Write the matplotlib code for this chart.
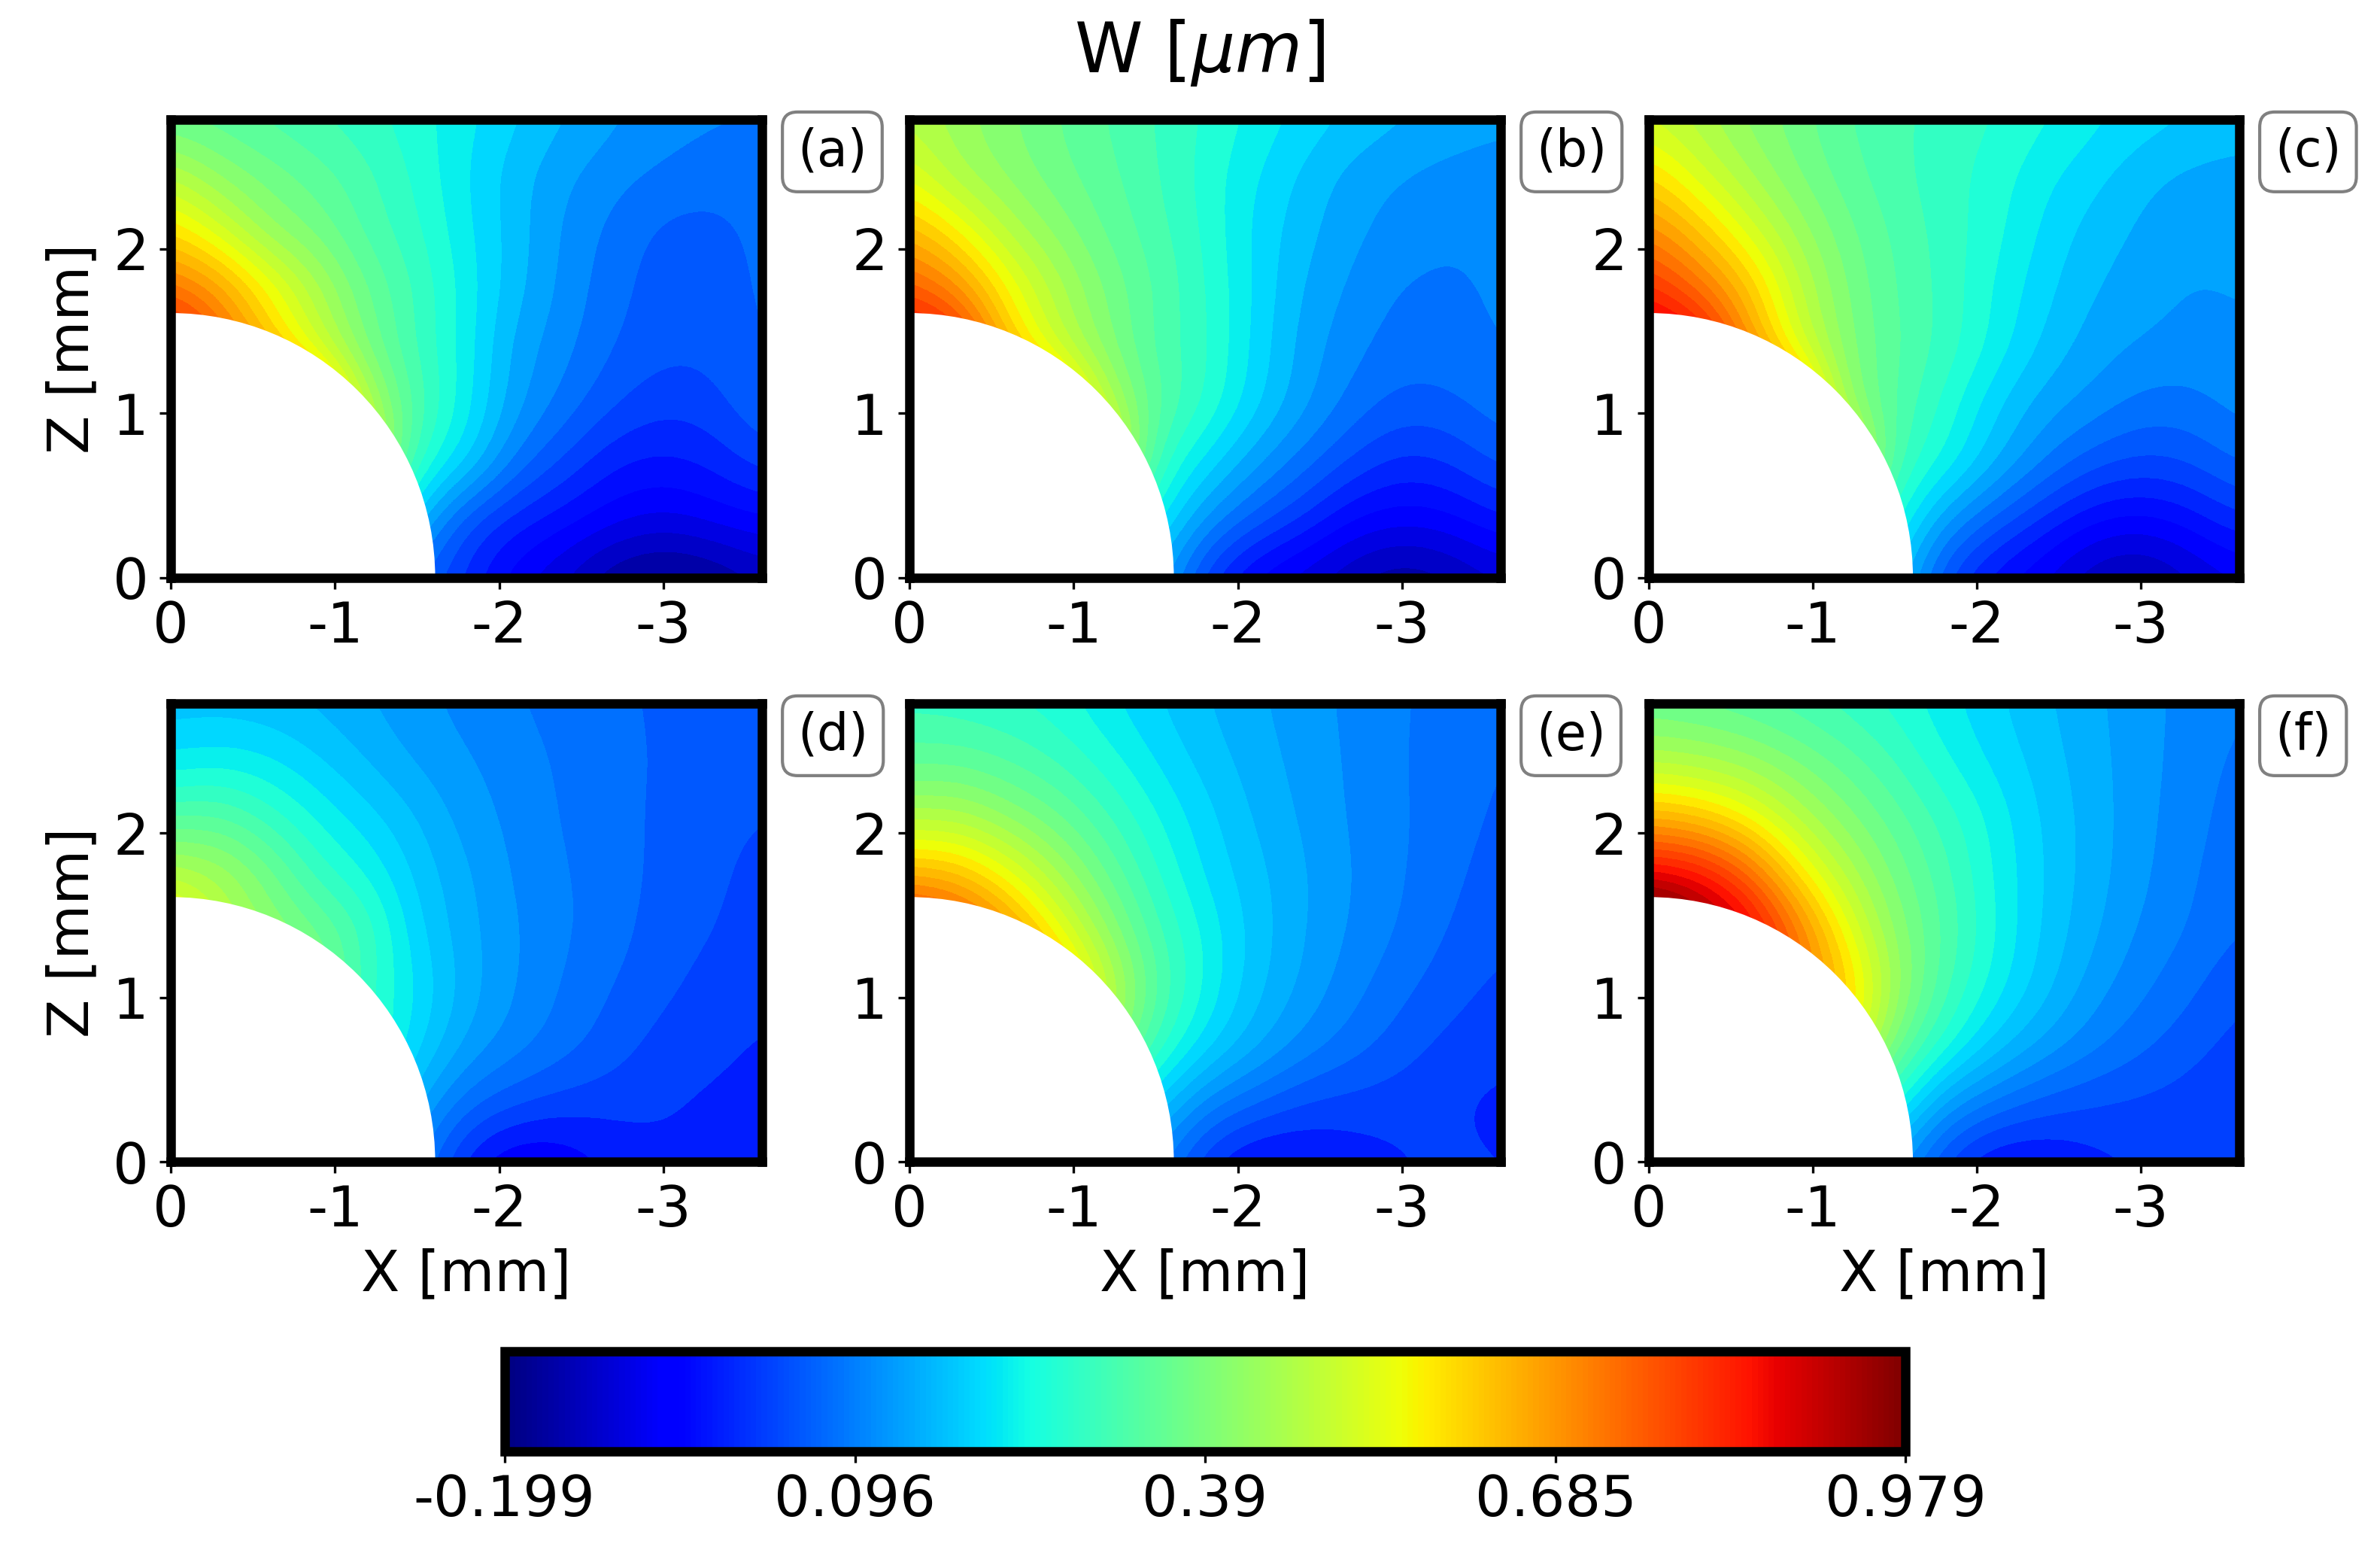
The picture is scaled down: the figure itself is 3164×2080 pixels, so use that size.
import numpy as np
import matplotlib
matplotlib.use('Agg')
import matplotlib.pyplot as plt
from matplotlib.cm import ScalarMappable
from matplotlib.colors import BoundaryNorm, ListedColormap, Normalize
from matplotlib.patches import Circle

# sampling positions of the maps [mm]
x_mm = [0, 0.3, 0.6, 0.9, 1.2, 1.5, 1.8, 2.1, 2.4, 2.7, 3.0, 3.3, 3.6]
z_mm = [0, 0.35, 0.7, 1.05, 1.4, 1.75, 2.1, 2.45, 2.8]

# W values, one row per z (nodes under the hole are hidden)
w_a = [[.50, .48, .42, .34, .12, .065, -.005, -.075, -.115, -.175, -.195, -.18, -.14],
       [.70, .68, .60, .50, .30, .165, .035, -.01, -.04, -.07, -.09, -.07, -.055],
       [.95, .92, .85, .72, .55, .27, .20, .085, .03, -.02, -.03, -.015, .025],
       [.98, .95, .88, .75, .46, .32, .228, .135, .085, .04, .015, .025, .066],
       [.89, .75, .62, .50, .38, .295, .23, .14, .105, .065, .045, .045, .069],
       [.74, .685, .57, .46, .36, .30, .23, .165, .115, .075, .05, .05, .072],
       [.60, .52, .42, .38, .32, .28, .22, .17, .118, .085, .055, .052, .076],
       [.48, .41, .375, .345, .31, .265, .215, .165, .13, .105, .09, .08, .08],
       [.35, .34, .32, .30, .28, .255, .223, .19, .157, .132, .11, .10, .097]]
w_b = [[.50, .48, .42, .34, .15, .16, .01, -.07, -.105, -.145, -.175, -.15, -.115],
       [.70, .68, .60, .50, .32, .225, .122, .055, .005, -.055, -.07, -.06, -.022],
       [.95, .92, .85, .75, .60, .285, .205, .135, .08, .03, -.005, .01, .05],
       [.98, .95, .85, .72, .47, .34, .275, .195, .135, .083, .055, .06, .085],
       [.91, .85, .62, .49, .40, .32, .28, .205, .14, .103, .08, .085, .098],
       [.765, .70, .565, .465, .385, .33, .275, .21, .15, .118, .09, .09, .10],
       [.65, .57, .47, .41, .355, .315, .268, .205, .165, .13, .112, .097, .105],
       [.53, .45, .41, .37, .34, .305, .26, .216, .176, .14, .123, .113, .108],
       [.47, .43, .395, .36, .33, .30, .27, .235, .205, .18, .16, .145, .135]]
w_c = [[.50, .50, .45, .35, .25, .19, .03, -.045, -.085, -.14, -.16, -.12, -.085],
       [.70, .68, .60, .50, .35, .257, .13, .06, 0, -.05, -.065, -.04, .005],
       [.90, .85, .80, .70, .60, .30, .245, .165, .10, .05, .03, .04, .075],
       [.98, .95, .90, .75, .41, .33, .265, .19, .14, .115, .085, .085, .108],
       [.95, .90, .69, .52, .40, .335, .295, .237, .178, .14, .122, .113, .118],
       [.82, .74, .64, .49, .39, .33, .295, .24, .195, .155, .14, .122, .128],
       [.71, .63, .53, .44, .37, .325, .29, .255, .208, .17, .148, .132, .135],
       [.60, .52, .45, .39, .345, .31, .285, .26, .222, .195, .162, .145, .14],
       [.50, .46, .41, .375, .33, .31, .29, .275, .25, .225, .202, .187, .175]]
w_d = [[.30, .30, .28, .25, .15, .07, -.045, -.095, -.08, -.045, -.03, -.032, -.033],
       [.45, .43, .40, .35, .25, .13, .045, .012, -.008, -.012, -.018, -.03, -.035],
       [.55, .50, .45, .40, .29, .195, .118, .08, .05, .02, -.005, -.012, -.028],
       [.60, .55, .48, .40, .275, .215, .14, .096, .062, .035, .012, -.003, -.012],
       [.62, .48, .41, .37, .30, .19, .135, .098, .07, .05, .02, .008, -.008],
       [.475, .45, .38, .285, .24, .175, .13, .09, .068, .05, .028, .015, -.005],
       [.325, .335, .285, .235, .195, .155, .11, .087, .062, .047, .03, .018, .007],
       [.213, .225, .215, .185, .15, .118, .098, .08, .06, .045, .033, .025, .02],
       [.165, .165, .16, .145, .125, .103, .085, .067, .054, .04, .033, .028, .025]]
w_e = [[.30, .30, .28, .25, .15, .075, -.025, -.07, -.06, -.04, -.025, -.015, -.022],
       [.45, .43, .40, .35, .25, .18, .075, .035, 0, -.008, -.012, -.02, -.033],
       [.70, .70, .65, .60, .45, .29, .20, .135, .085, .05, .02, -.005, -.012],
       [.90, .88, .80, .68, .50, .335, .24, .165, .118, .076, .043, .018, -.002],
       [.85, .80, .695, .555, .42, .31, .237, .172, .127, .09, .063, .033, .013],
       [.655, .635, .55, .45, .36, .275, .207, .165, .128, .095, .068, .044, .02],
       [.455, .46, .41, .365, .305, .245, .195, .15, .12, .09, .069, .05, .03],
       [.345, .345, .325, .295, .255, .21, .17, .14, .113, .09, .067, .05, .035],
       [.285, .28, .27, .255, .218, .185, .155, .13, .108, .088, .068, .055, .05]]
w_f = [[.30, .30, .28, .25, .15, .11, -.01, -.065, -.06, -.035, -.02, -.012, -.015],
       [.50, .50, .45, .40, .35, .255, .11, .055, .02, .005, -.002, -.008, -.02],
       [.70, .70, .65, .60, .60, .37, .26, .175, .118, .075, .043, .017, -.005],
       [.90, .90, .85, .74, .63, .44, .31, .232, .17, .11, .073, .043, .01],
       [1.11, .995, .905, .74, .555, .41, .33, .247, .18, .133, .09, .065, .036],
       [.88, .86, .76, .59, .47, .38, .315, .24, .185, .14, .103, .07, .045],
       [.645, .62, .56, .47, .40, .345, .29, .235, .18, .142, .105, .078, .05],
       [.46, .45, .425, .385, .345, .30, .245, .205, .17, .137, .107, .082, .058],
       [.355, .345, .33, .31, .285, .26, .223, .19, .16, .132, .107, .085, .068]]
panels = [w_a, w_b, w_c, w_d, w_e, w_f]
panel_names = ['(a)', '(b)', '(c)', '(d)', '(e)', '(f)']

w_min = -0.199
w_max = 0.979
n_bands = 40
hole_radius = 1.61
cbar_ticks = [-0.199, 0.096, 0.39, 0.685, 0.979]
cbar_labels = ['-0.199', '0.096', '0.39', '0.685', '0.979']

W, H = 3164, 2080
plt.rcParams['font.family'] = 'DejaVu Sans'
plt.rcParams['font.size'] = 18
fig = plt.figure(figsize=(W / 300, H / 300), dpi=300)


def px_axes(x0, y0, x1, y1):
    return fig.add_axes([x0 / W, 1 - y1 / H, (x1 - x0) / W, (y1 - y0) / H])


lefts = [227, 1209, 2192]
rights = [1013, 1995, 2977]
tops = [158.5, 934.5]
bottoms = [767.5, 1544]
levels = np.linspace(w_min, w_max, n_bands + 1)
band_norm = BoundaryNorm(levels, n_bands)
dx = (x_mm[1] - x_mm[0]) / 2
dz = (z_mm[1] - z_mm[0]) / 2

# band colours: the lower row reads about one band lighter in the blues
jet = plt.get_cmap('jet')
band_t = (np.arange(n_bands) + 0.5) / n_bands
top_cmap = ListedColormap(jet(band_t))
low_shift = np.interp(np.arange(n_bands), [4, 6, 8, 13], [.01, .025, .025, 0])
low_cmap = ListedColormap(jet(band_t + low_shift))

for i in range(6):
    row, col = i // 3, i % 3
    ax = px_axes(lefts[col], tops[row], rights[col], bottoms[row])
    # banded map: resampled by the image code, then cut into the contour bands
    ax.imshow(np.array(panels[i]), origin='lower', aspect='auto',
              cmap=top_cmap if row == 0 else low_cmap, norm=band_norm,
              extent=(dx, -x_mm[-1] - dx, z_mm[0] - dz, z_mm[-1] + dz),
              interpolation='bicubic', interpolation_stage='data')
    ax.add_patch(Circle((0, 0), hole_radius, fc='white', ec='none', zorder=2))
    ax.set_xlim(0, -3.6)
    ax.set_ylim(0, 2.79)
    ax.set_xticks([0, -1, -2, -3])
    ax.set_xticklabels(['0', '-1', '-2', '-3'])
    ax.set_yticks([0, 1, 2])
    for s in ax.spines.values():
        s.set_linewidth(3)
    if row == 1:
        ax.set_xlabel('X [mm]', fontsize=18, labelpad=3)
    if col == 0:
        ax.set_ylabel('Z [mm]', fontsize=18, labelpad=4)
    ax.text(1.06, 0.983, panel_names[i], transform=ax.transAxes, ha='left', va='top', fontsize=16,
            bbox=dict(boxstyle='round', fc='white', ec='gray', lw=1))

cax = px_axes(670.5, 1796, 2533, 1929)
sm = ScalarMappable(norm=Normalize(w_min, w_max), cmap='jet')
cb = fig.colorbar(sm, cax=cax, orientation='horizontal', ticks=cbar_ticks)
cb.ax.set_xticklabels(cbar_labels)
cb.outline.set_linewidth(3)

fig.text(1594 / W, 1 - 70 / H, r'W [$\mu m$]', fontsize=22, ha='center', va='center')

fig.savefig('out.png', dpi=300)
